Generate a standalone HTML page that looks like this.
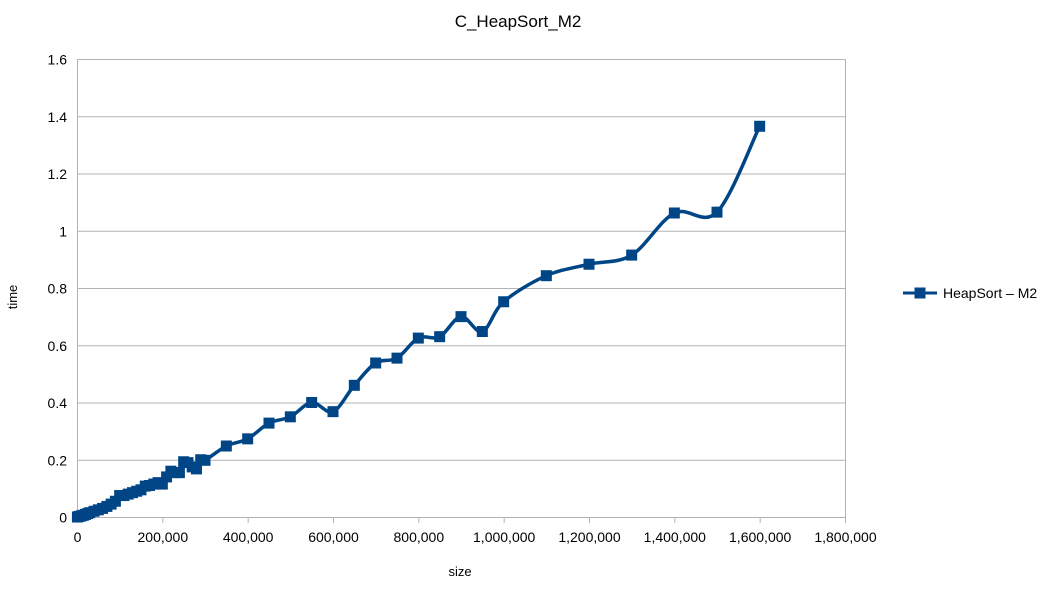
<!DOCTYPE html>
<html><head><meta charset="utf-8"><style>
body{margin:0;background:#fff;font-family:"Liberation Sans",sans-serif}
svg text{font-family:"Liberation Sans",sans-serif;fill:#000}
</style></head><body>
<svg id="s" width="1059" height="591" viewBox="0 0 1059 591" xmlns="http://www.w3.org/2000/svg">
<rect width="1059" height="591" fill="#fff"/>
<text x="518" y="27" font-size="17" text-anchor="middle">C_HeapSort_M2</text>
<g id="grid" stroke="#b3b3b3" stroke-width="1"></g>
<g id="lbl" font-size="14"></g>
<text x="460" y="576" font-size="13" text-anchor="middle">size</text>
<text x="17" y="297" font-size="13" text-anchor="middle" transform="rotate(-90 17 297)">time</text>
<path id="ln" fill="none" stroke="#004586" stroke-width="3.5"/>
<g id="mk" fill="#004586"></g>
<line x1="903" y1="293" x2="937" y2="293" stroke="#004586" stroke-width="3"/>
<rect x="914.5" y="287.5" width="11" height="11" fill="#004586"/>
<text x="943" y="298" font-size="14">HeapSort – M2</text>
</svg>
<script>
var NS="http://www.w3.org/2000/svg";
function el(p,t,a){var e=document.createElementNS(NS,t);for(var k in a)e.setAttribute(k,a[k]);document.getElementById(p).appendChild(e);return e;}
var X0=77,X1=845,Y0=517,Y1=59;
function px(s){return X0+s*(X1-X0)/1800000}
function py(t){return Y0-t*(Y0-Y1)/1.6}
for(var i=0;i<=8;i++){var y=Y0-i*(Y0-Y1)/8+0.5;el("grid","line",{x1:X0,x2:X1,y1:y,y2:y});
 var t=el("lbl","text",{x:67,y:y+5,"text-anchor":"end"});t.textContent=["0","0.2","0.4","0.6","0.8","1","1.2","1.4","1.6"][i];}
el("grid","line",{x1:X0+0.5,x2:X0+0.5,y1:Y1,y2:Y0});
el("grid","line",{x1:X1+0.5,x2:X1+0.5,y1:Y1,y2:Y0});
for(var i=0;i<=9;i++){var x=X0+i*(X1-X0)/9+0.5;el("grid","line",{x1:x,x2:x,y1:Y0,y2:Y0+6});
 var t=el("lbl","text",{x:x,y:Y0+25,"text-anchor":"middle"});t.textContent=(i*200000).toLocaleString("en-US");}
var d=[[1000,0],[5000,0.002],[10000,0.004],[15000,0.006],[20000,0.009],[25000,0.012],[30000,0.015],[40000,0.02],[50000,0.025],[60000,0.03],[70000,0.037],[80000,0.045],[90000,0.055],[100000,0.075],[110000,0.075],[120000,0.08],[130000,0.085],[140000,0.09],[150000,0.095],[160000,0.108],[170000,0.11],[180000,0.115],[190000,0.12],[200000,0.115],[210000,0.14],[220000,0.16],[230000,0.155],[240000,0.155],[250000,0.193],[260000,0.19],[270000,0.175],[280000,0.168],[290000,0.2],[300000,0.198],[350000,0.248],[400000,0.273],[450000,0.328],[500000,0.35],[550000,0.4],[600000,0.368],[650000,0.46],[700000,0.538],[750000,0.555],[800000,0.625],[850000,0.63],[900000,0.70],[950000,0.648],[1000000,0.752],[1100000,0.843],[1200000,0.883],[1300000,0.915],[1400000,1.062],[1500000,1.065],[1600000,1.365]];
var P=d.map(function(a){return [px(a[0]),py(a[1])]});
var s="M"+P[0][0]+","+P[0][1];
for(var i=0;i<P.length-1;i++){var p0=P[Math.max(0,i-1)],p1=P[i],p2=P[i+1],p3=P[Math.min(P.length-1,i+2)];
 s+=" C"+(p1[0]+(p2[0]-p0[0])/6)+","+(p1[1]+(p2[1]-p0[1])/6)+" "+(p2[0]-(p3[0]-p1[0])/6)+","+(p2[1]-(p3[1]-p1[1])/6)+" "+p2[0]+","+p2[1];}
document.getElementById("ln").setAttribute("d",s);
P.forEach(function(p){el("mk","rect",{x:p[0]-5.5,y:p[1]-5.5,width:11,height:11});});
</script>
</body></html>
